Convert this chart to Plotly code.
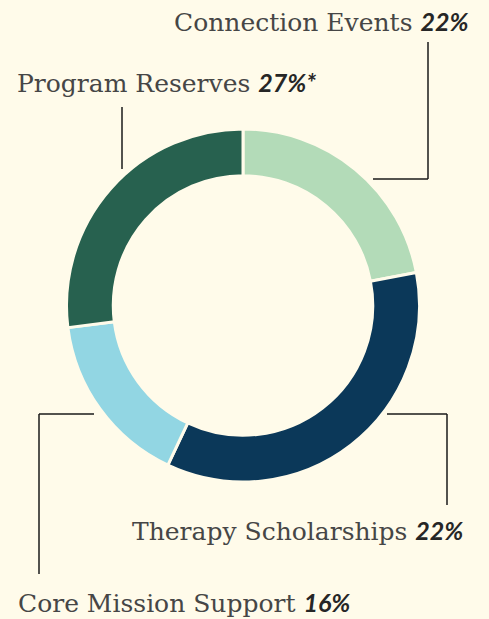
import plotly.graph_objects as go

# ---- data ----
categories = ["Connection Events", "Therapy Scholarships", "Core Mission Support", "Program Reserves"]
values = [22, 35, 16, 27]
pct_labels = ["22%", "22%", "16%", "27%*"]
colors = ["#b3dbb8", "#0b3859", "#92d6e3", "#27614f"]

W, H = 489, 619
BG = "#fffbea"
CX, CY, R = 243, 305.5, 176.5

def px(x):
    return x / W

def py(y):
    return 1 - y / H

fig = go.Figure(go.Pie(
    labels=categories,
    values=values,
    hole=0.735,
    sort=False,
    direction="clockwise",
    rotation=0,
    marker=dict(colors=colors, line=dict(color=BG, width=3)),
    textinfo="none",
    hoverinfo="label+value",
    domain=dict(x=[px(CX - R), px(CX + R)], y=[py(CY + R), py(CY - R)]),
    showlegend=False,
))

TEXT_FONT = dict(family="DejaVu Serif", size=25, color="#464646")

def lab(name, pct):
    return (f"{name} <span style='font-family:Lato, Inter, sans-serif;font-weight:bold;"
            f"font-style:italic;color:#262626'>{pct}</span>")

# label placements (pixel coords): x, y, xanchor
placements = [
    (470, 22, "right"),
    (130, 530, "left"),
    (16, 602, "left"),
    (15, 82, "left"),
]
annotations = []
for i in range(len(categories)):
    x, y, xa = placements[i]
    annotations.append(dict(
        x=px(x), y=py(y), xref="paper", yref="paper",
        text=lab(categories[i], pct_labels[i]),
        showarrow=False, xanchor=xa, yanchor="middle",
        font=TEXT_FONT,
    ))

# leader lines (pixel polylines)
leaders = [
    [(373, 179), (428, 179), (428, 42)],
    [(387, 414), (447, 414), (447, 505)],
    [(94, 414), (39, 414), (39, 574)],
    [(122, 169), (122, 107)],
]
shapes = []
for pts in leaders:
    for (x0, y0), (x1, y1) in zip(pts[:-1], pts[1:]):
        shapes.append(dict(type="line", xref="paper", yref="paper",
                           x0=px(x0), y0=py(y0), x1=px(x1), y1=py(y1),
                           line=dict(color="#1a1a1a", width=1.5)))

fig.update_layout(
    width=W, height=H,
    margin=dict(l=0, r=0, t=0, b=0),
    paper_bgcolor=BG, plot_bgcolor=BG,
    annotations=annotations,
    shapes=shapes,
)

fig.write_html(
    "out.html",
    config={"displayModeBar": False},
    post_script="document.body.style.margin='0';document.body.style.background='%s';" % BG,
)
